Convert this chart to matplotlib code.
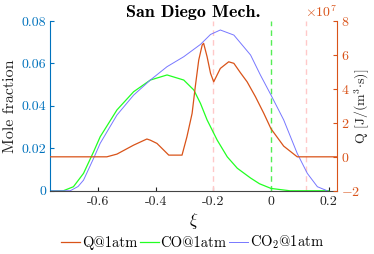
import matplotlib
matplotlib.use("Agg")
import matplotlib.pyplot as plt
import numpy as np

plt.rcParams['font.family'] = 'serif'
plt.rcParams['font.serif'] = ['cmr10']
plt.rcParams['mathtext.fontset'] = 'cm'
plt.rcParams['axes.unicode_minus'] = False
plt.rcParams['axes.formatter.use_mathtext'] = True
plt.rcParams['font.size'] = 10

# ---- data ----
q_xi = [-0.767, -0.57, -0.535, -0.477, -0.431, -0.419, -0.396, -0.355, -0.309, -0.292,
        -0.274, -0.263, -0.251, -0.239, -0.234, -0.222, -0.21, -0.199, -0.176, -0.147,
        -0.129, -0.106, -0.083, -0.054, -0.025, 0.0, 0.044, 0.091, 0.229]
q_val = [0.0, 0.0, 0.16, 0.69, 1.05, 0.98, 0.79, 0.1, 0.1, 1.18,
         2.56, 4.13, 5.7, 6.59, 6.69, 5.9, 4.92, 4.42, 5.21, 5.6,
         5.51, 4.95, 4.42, 3.54, 2.56, 1.65, 0.63, 0.0, 0.0]  # x1e7 J/(m^3 s)

co_xi = [-0.767, -0.721, -0.686, -0.651, -0.616, -0.593, -0.535, -0.477, -0.419, -0.361,
         -0.303, -0.268, -0.245, -0.222, -0.187, -0.152, -0.117, -0.071, -0.04, 0.0,
         0.065, 0.2]
co_val = [0.0, 0.0, 0.0019, 0.0082, 0.0184, 0.0255, 0.0381, 0.0467, 0.0522, 0.0546,
          0.0522, 0.0475, 0.0412, 0.0334, 0.0239, 0.016, 0.0106, 0.006, 0.0033, 0.0011,
          0.0, 0.0]

co2_xi = [-0.767, -0.697, -0.67, -0.651, -0.616, -0.593, -0.535, -0.477, -0.419, -0.361,
          -0.303, -0.245, -0.21, -0.176, -0.129, -0.095, -0.071, -0.037, 0.0, 0.044,
          0.091, 0.126, 0.161, 0.195]
co2_val = [0.0, 0.0, 0.002, 0.005, 0.0153, 0.0224, 0.0357, 0.0451, 0.0522, 0.0585,
           0.0632, 0.069, 0.0737, 0.0758, 0.0734, 0.0679, 0.064, 0.0546, 0.0451, 0.0334,
           0.0176, 0.0082, 0.0019, 0.0]

vlines_pink = [-0.2, 0.12]
vlines_green = [0.0]

c_blue = '#0072BD'
c_orange = '#D95319'
c_green = '#22FF22'
c_co2 = '#7777FF'

fig = plt.figure(figsize=(3.74, 2.54), dpi=100)
ax = fig.add_axes([0.134, 0.249, 0.767, 0.668])
ax2 = ax.twinx()

for v in vlines_pink:
    ax.axvline(v, color='#FFC8C8', ls='--', lw=1.0, dashes=(4, 3))
for v in vlines_green:
    ax.axvline(v, color='#55EE55', ls='--', lw=1.0, dashes=(4, 3))

l2, = ax.plot(co_xi, co_val, color=c_green, lw=0.9, label='CO@1atm')
l3, = ax.plot(co2_xi, co2_val, color=c_co2, lw=0.7, label='CO$_2$@1atm')
l1, = ax2.plot(q_xi, np.array(q_val) * 1e7, color=c_orange, lw=0.9, label='Q@1atm')

ax.set_xlim(-0.767, 0.229)
ax.set_ylim(0, 0.08)
ax2.set_ylim(-2e7, 8e7)
ax.set_xticks([-0.6, -0.4, -0.2, 0, 0.2])
ax.set_xticklabels(['-0.6', '-0.4', '-0.2', '0', '0.2'])
ax.set_yticks([0, 0.02, 0.04, 0.06, 0.08])
ax.set_yticklabels(['0', '0.02', '0.04', '0.06', '0.08'])
ax2.set_yticks([-2e7, 0, 2e7, 4e7, 6e7, 8e7])

for s in ['top']:
    ax.spines[s].set_visible(False)
    ax2.spines[s].set_visible(False)
ax.spines['left'].set_color(c_blue)
ax2.spines['left'].set_visible(False)
ax.spines['right'].set_visible(False)
ax2.spines['right'].set_color(c_orange)
ax.spines['bottom'].set_color('#444444')
ax2.spines['bottom'].set_visible(False)

ax.tick_params(axis='x', direction='in', colors='#222222', length=3, width=0.8, pad=4)
ax.tick_params(axis='y', direction='in', colors=c_blue, length=3, width=0.8, pad=3)
ax2.tick_params(axis='y', direction='in', colors=c_orange, length=3, width=0.8, pad=3)

ax.set_ylabel('Mole fraction', color='#222222', fontsize=11.5, labelpad=3)
ax2.set_ylabel('Q [J/(m$^3$$\\cdot$s)]', color='#222222', fontsize=10)
ax2.yaxis.set_label_coords(1.055, 0.5)
ax.set_xlabel('$\\xi$', fontsize=12, labelpad=2)
ax.set_title('San Diego Mech.', fontfamily='cmb10', fontsize=13, pad=3)
ax2.yaxis.get_offset_text().set_color(c_orange)

fig.legend(handles=[l1, l2, l3], loc='center', bbox_to_anchor=(0.515, 0.045), ncol=3,
           frameon=False, handlelength=1.3, handletextpad=0.1, columnspacing=0.2,
           borderaxespad=0, fontsize=10.5)

fig.savefig('out.png', dpi=100)
